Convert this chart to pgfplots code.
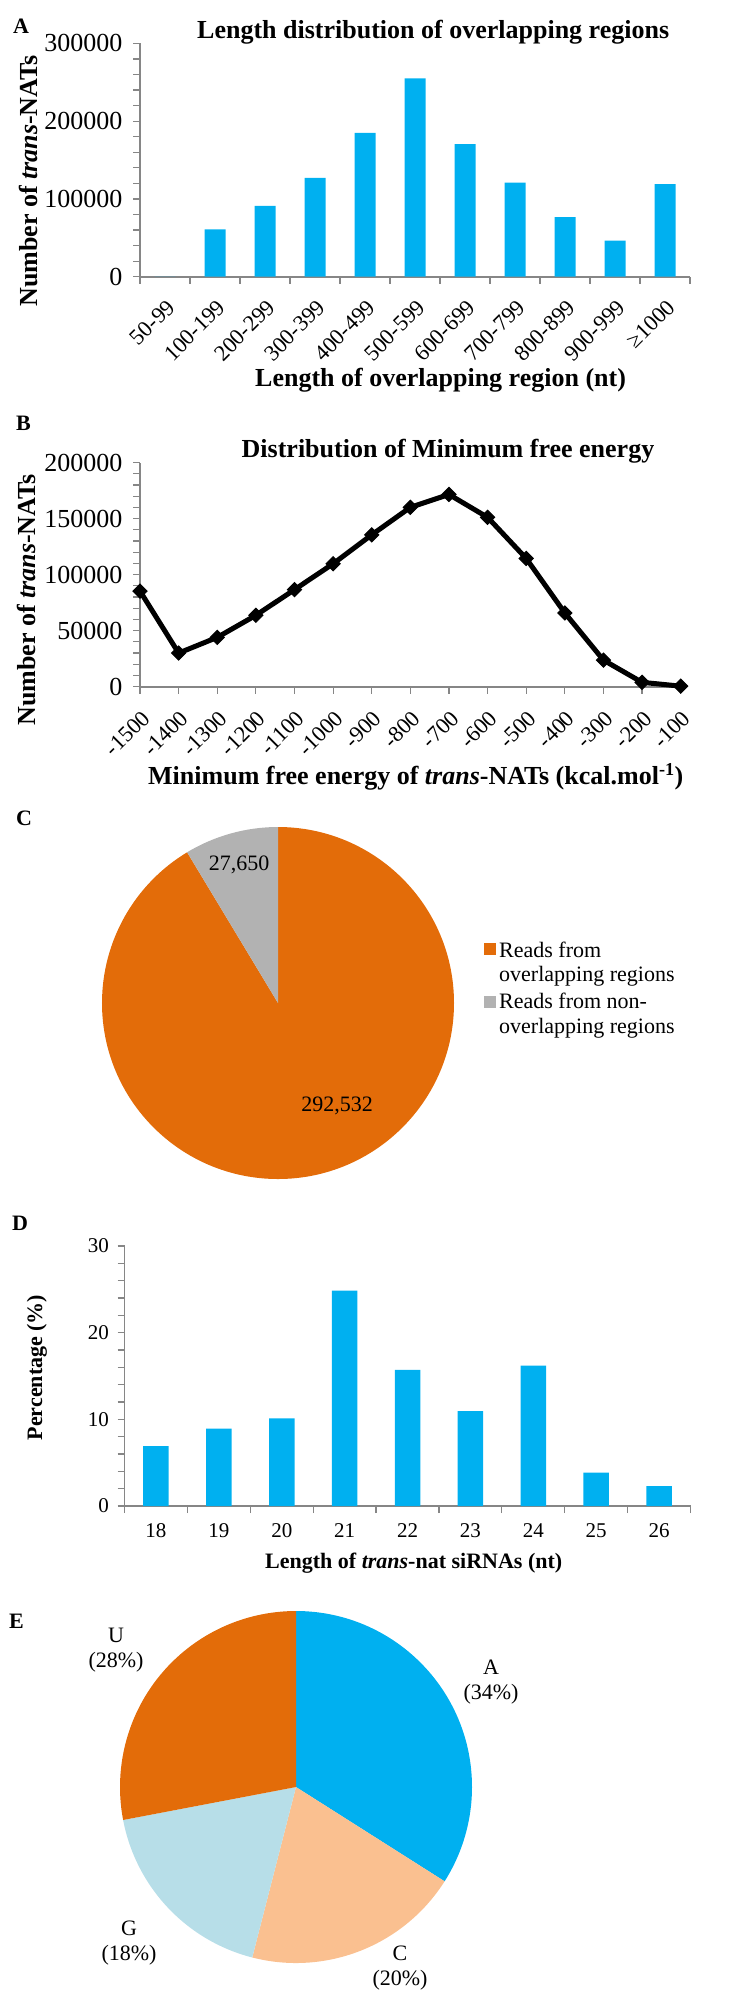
\documentclass[border=0pt]{standalone}
\usepackage{pgfplots}
\pgfplotsset{compat=1.18}
\usepackage{fontspec}
\setmainfont{Liberation Serif}
\definecolor{barblue}{HTML}{00B0F0}
\definecolor{axgray}{HTML}{868686}
\definecolor{pieorange}{HTML}{E36C09}
\definecolor{piegray}{HTML}{B2B2B2}
\definecolor{peach}{HTML}{FAC090}
\definecolor{lightblue}{HTML}{B7DEE8}
\newcommand\fs[1]{\fontsize{#1bp}{#1bp}\selectfont}

% data
\pgfplotstableread{
x y
0 0
1 61000
2 91000
3 127000
4 185000
5 255000
6 170500
7 121000
8 76500
9 46500
10 119000
}\dataA
\pgfplotstableread{
x y
-1500 85300
-1400 30000
-1300 44000
-1200 63700
-1100 86600
-1000 109700
-900 135500
-800 160000
-700 171500
-600 151100
-500 114400
-400 65800
-300 23700
-200 3900
-100 500
}\dataB
\pgfplotstableread{
x y
18 6.92
19 8.92
20 10.1
21 24.85
22 15.7
23 10.96
24 16.2
25 3.85
26 2.3
}\dataD
\def\Cover{292532}\def\Cnon{27650}
\def\EA{34}\def\EC{20}\def\EG{18}\def\EU{28}
\edef\cB{\fpeval{90-360*\Cover/(\Cover+\Cnon)}}
\edef\eA{\fpeval{90-3.6*\EA}}
\edef\eC{\fpeval{\eA-3.6*\EC}}
\edef\eG{\fpeval{\eC-3.6*\EG}}

\pgfplotsset{excel/.style={
  scale only axis, anchor=south west,
  axis lines=left, axis line style={-, axgray, line width=1.8bp},
  tick align=outside, major tick length=7bp, minor tick length=7bp,
  tick style={axgray, line width=1.2bp},
  /pgf/number format/assume math mode=true,
  scaled y ticks=false, scaled x ticks=false, clip=false,
  ticklabel style={font=\fs{26}},
}}

\begin{document}
\begin{tikzpicture}
\useasboundingbox (0,0) rectangle (731bp,-1999bp);

% ---------- A ----------
\begin{axis}[excel, at={(140bp,-276.7bp)}, width=550bp, height=233.3bp,
  xmin=-0.5, xmax=10.5, ymin=0, ymax=300000,
  ytick={0,100000,200000,300000}, yticklabels={0,100000,200000,300000},
  minor y tick num=4,
  yticklabel style={xshift=-7bp},
  xtick={0,...,10},
  xticklabels={50-99,100-199,200-299,300-399,400-499,500-599,600-699,700-799,800-899,900-999,≥1000},
  minor xtick={-0.5,0.5,...,10.5},
  major x tick style={draw=none},
  xticklabel style={xshift=6bp, yshift=-20bp, rotate=45, anchor=east, inner sep=0pt, font=\fs{22.5}},
  ybar, bar width=21bp]
\addplot[fill=barblue, draw=none] table[x=x,y=y] {\dataA};
\end{axis}

% ---------- B ----------
\begin{axis}[excel, at={(140bp,-686.7bp)}, width=540.7bp, height=224.2bp,
  xmin=-1500, xmax=-100, ymin=0, ymax=200000,
  ytick={0,50000,100000,150000,200000}, yticklabels={0,50000,100000,150000,200000},
  minor y tick num=4,
  yticklabel style={xshift=-7bp},
  xtick={-1500,-1400,...,-100},
  xticklabels={-1500,-1400,-1300,-1200,-1100,-1000,-900,-800,-700,-600,-500,-400,-300,-200,-100},
  xticklabel style={xshift=6bp, yshift=-21bp, rotate=45, anchor=east, inner sep=0pt, font=\fs{22.5}}]
\addplot[black, line width=5bp, mark=square*, mark size=5bp,
  mark options={rotate=45, fill=black, line width=1bp}] table[x=x,y=y] {\dataB};
\end{axis}

% ---------- C ----------
\begin{axis}[hide axis, scale only axis, anchor=south west, at={(102bp,-1179bp)},
  width=352bp, height=352bp, xmin=-1, xmax=1, ymin=-1, ymax=1, clip=false]
\fill[pieorange] (axis cs:0,0) -- (axis cs:0,1) arc[start angle=90, end angle=\cB, radius=176bp] -- cycle;
\fill[piegray] (axis cs:0,0) -- (axis cs:{cos(\cB)},{sin(\cB)}) arc[start angle=\cB, end angle=-270, radius=176bp] -- cycle;
\end{axis}

% ---------- D ----------
\begin{axis}[excel, at={(124.5bp,-1506bp)}, width=566.1bp, height=260bp,
  xmin=17.5, xmax=26.5, ymin=0, ymax=30,
  ytick={0,10,20,30}, minor y tick num=4,
  xtick={18,...,26}, minor xtick={17.5,18.5,...,26.5},
  major x tick style={draw=none},
  ticklabel style={font=\fs{21}},
  yticklabel style={xshift=-5bp},
  xticklabel style={yshift=-7bp},
  ybar, bar width=25.5bp]
\addplot[fill=barblue, draw=none] table[x=x,y=y] {\dataD};
\end{axis}

% ---------- E ----------
\begin{axis}[hide axis, scale only axis, anchor=south west, at={(120bp,-1963bp)},
  width=352bp, height=352bp, xmin=-1, xmax=1, ymin=-1, ymax=1, clip=false]
\fill[barblue] (axis cs:0,0) -- (axis cs:0,1) arc[start angle=90, end angle=\eA, radius=176bp] -- cycle;
\fill[peach] (axis cs:0,0) -- (axis cs:{cos(\eA)},{sin(\eA)}) arc[start angle=\eA, end angle=\eC, radius=176bp] -- cycle;
\fill[lightblue] (axis cs:0,0) -- (axis cs:{cos(\eC)},{sin(\eC)}) arc[start angle=\eC, end angle=\eG, radius=176bp] -- cycle;
\fill[pieorange] (axis cs:0,0) -- (axis cs:{cos(\eG)},{sin(\eG)}) arc[start angle=\eG, end angle=-270, radius=176bp] -- cycle;
\end{axis}

% ---------- texts ----------
\begin{scope}[every node/.style={inner sep=0pt}]
% panel letters
\node[anchor=base west, font=\bfseries\fs{22}] at (13bp,-33bp) {A};
\node[anchor=base west, font=\bfseries\fs{22}] at (16bp,-430bp) {B};
\node[anchor=base west, font=\bfseries\fs{22}] at (16bp,-825bp) {C};
\node[anchor=base west, font=\bfseries\fs{22}] at (12bp,-1230bp) {D};
\node[anchor=base west, font=\bfseries\fs{22}] at (9bp,-1628bp) {E};
% A
\node[anchor=base west, font=\bfseries\fs{26}] at (197bp,-38.5bp) {Length distribution of overlapping regions};
\node[anchor=base west, font=\bfseries\fs{26}] at (255bp,-386bp) {Length of overlapping region (nt)};
\node[anchor=base, rotate=90, font=\bfseries\fs{26}] at (37bp,-181bp) {Number of \textit{trans}-NATs};
% B
\node[anchor=base west, font=\bfseries\fs{26}] at (241.5bp,-457.3bp) {Distribution of Minimum free energy};
\node[anchor=base west, font=\bfseries\fs{26}] at (148bp,-784bp) {Minimum free energy of \textit{trans}-NATs (kcal.mol\textsuperscript{-1})};
\node[anchor=base, rotate=90, font=\bfseries\fs{26}] at (35bp,-600bp) {Number of \textit{trans}-NATs};
% C
\node[font=\fs{22}] at (239bp,-865bp) {27,650};
\node[font=\fs{22}] at (337bp,-1106bp) {292,532};
\fill[pieorange] (484bp,-943.2bp) rectangle (496bp,-955.2bp);
\fill[piegray] (484bp,-995.7bp) rectangle (496bp,-1007.7bp);
\node[anchor=base west, font=\fs{22}] at (499bp,-957.3bp) {Reads from};
\node[anchor=base west, font=\fs{22}] at (499bp,-981.7bp) {overlapping regions};
\node[anchor=base west, font=\fs{22}] at (499bp,-1008.3bp) {Reads from non-};
\node[anchor=base west, font=\fs{22}] at (499bp,-1033.3bp) {overlapping regions};
% D
\node[anchor=base west, font=\bfseries\fs{22}] at (265bp,-1568.3bp) {Length of \textit{trans}-nat siRNAs (nt)};
\node[anchor=base, rotate=90, font=\bfseries\fs{22}] at (42bp,-1367.5bp) {Percentage (\%)};
% E
\node[align=center, font=\fontsize{22bp}{25bp}\selectfont] at (491bp,-1682.5bp) {A\\(34\%)};
\node[align=center, font=\fontsize{22bp}{25bp}\selectfont] at (400bp,-1968.5bp) {C\\(20\%)};
\node[align=center, font=\fontsize{22bp}{25bp}\selectfont] at (129bp,-1943.5bp) {G\\(18\%)};
\node[align=center, font=\fontsize{22bp}{25bp}\selectfont] at (116bp,-1650bp) {U\\(28\%)};
\end{scope}
\end{tikzpicture}
\end{document}
